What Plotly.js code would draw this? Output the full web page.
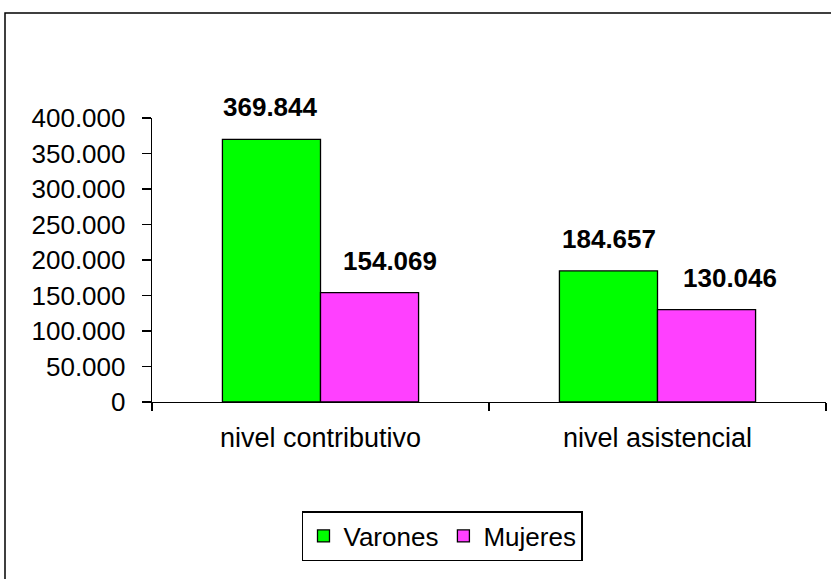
<!DOCTYPE html>
<html><head><meta charset="utf-8">
<script src="https://cdn.plot.ly/plotly-3.0.1.min.js"></script>
<style>body{margin:0;padding:0;background:#fff}#chart{width:831px;height:579px}</style>
</head><body><div id="chart"></div>
<script>
const categories = ["nivel contributivo", "nivel asistencial"];
const varones = [369844, 184657];
const mujeres = [154069, 130046];
const seriesNames = ["Varones", "Mujeres"];
const labelsVarones = ["369.844", "184.657"];
const labelsMujeres = ["154.069", "130.046"];

// label placement (styling, pixels)
const shiftVarones = [-50, -49];
const shiftMujeres = [69, 72];

const font = {family: "Liberation Sans, Arial, sans-serif", size: 26, color: "#000"};

const traces = [
  {type: "bar", name: seriesNames[0], x: categories, y: varones,
   marker: {color: "#00FF00", line: {color: "#000", width: 1.3}}, hoverinfo: "skip"},
  {type: "bar", name: seriesNames[1], x: categories, y: mujeres,
   marker: {color: "#FF40FF", line: {color: "#000", width: 1.3}}, hoverinfo: "skip"}
];

const annotations = [];
categories.forEach((c, i) => {
  annotations.push({x: c, y: varones[i], xref: "x", yref: "y", text: "<b>" + labelsVarones[i] + "</b>",
    showarrow: false, yanchor: "bottom", yshift: 15, xshift: shiftVarones[i], font: font});
  annotations.push({x: c, y: mujeres[i], xref: "x", yref: "y", text: "<b>" + labelsMujeres[i] + "</b>",
    showarrow: false, yanchor: "bottom", yshift: 15, xshift: shiftMujeres[i], font: font});
});

const layout = {
  width: 831, height: 579,
  margin: {l: 152, r: 5, t: 118, b: 177, pad: 0},
  paper_bgcolor: "#fff", plot_bgcolor: "#fff",
  font: font,
  separators: ",.",
  barmode: "group",
  bargap: 0.418, bargroupgap: 0,
  showlegend: true,
  legend: {orientation: "h", x: 0.431, xanchor: "center", y: -0.472, yanchor: "middle",
    bordercolor: "#000", borderwidth: 1.5, font: font, traceorder: "normal"},
  xaxis: {type: "category", showline: true, linecolor: "#000", linewidth: 1.3,
    ticks: "outside", tickson: "boundaries", ticklen: 8, tickcolor: "#000", tickwidth: 1.3,
    tickfont: {family: font.family, size: 27, color: "#000"},
    ticklabelstandoff: 11, showgrid: false, zeroline: false, fixedrange: true},
  yaxis: {range: [0, 400000], dtick: 50000, tick0: 0, tickformat: ",d",
    showline: true, linecolor: "#000", linewidth: 1.3,
    ticks: "outside", ticklen: 9, tickcolor: "#000", tickwidth: 1.3,
    ticklabelstandoff: 11, showgrid: false, zeroline: false, fixedrange: true},
  annotations: annotations,
  shapes: [{type: "rect", xref: "paper", yref: "paper",
    x0: (5 - 152) / 674, x1: 1.2, y0: -1, y1: (402 - 13) / 284,
    line: {color: "#000", width: 1.5}, fillcolor: "rgba(0,0,0,0)", layer: "below"}]
};

Plotly.newPlot("chart", traces, layout, {displayModeBar: false, staticPlot: true});
</script></body></html>
